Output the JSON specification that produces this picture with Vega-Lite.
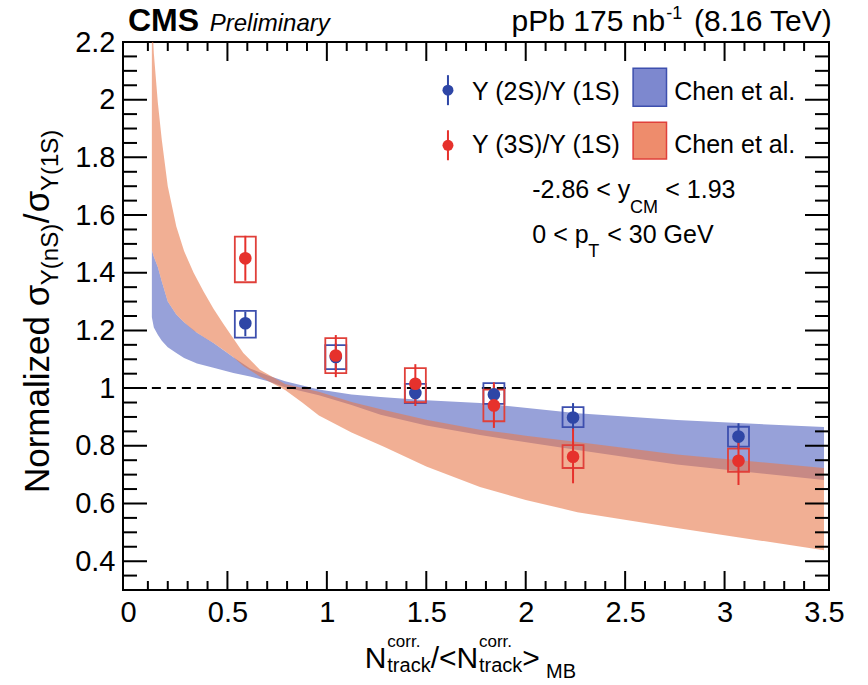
{
  "$schema": "https://vega.github.io/schema/vega-lite/v6.json",
  "width": 706,
  "height": 548,
  "autosize": {"type": "none"},
  "padding": {"left": 123, "top": 42, "right": 39, "bottom": 95},
  "background": "white",
  "config": {
    "view": {"stroke": "black", "strokeWidth": 2},
    "axis": {"labelFont": "Liberation Sans", "labelFontSize": 29, "labelColor": "black", "ticks": false, "domain": false, "grid": false, "labelPadding": 8, "labelFlush": false, "labelOverlap": false}
  },
  "datasets": {
    "blue": [
      {"x": 0.12, "lo": 1.246, "hi": 1.478}, {"x": 0.13, "lo": 1.21, "hi": 1.455}, {"x": 0.15, "lo": 1.185, "hi": 1.42},
      {"x": 0.17, "lo": 1.164, "hi": 1.37}, {"x": 0.2, "lo": 1.142, "hi": 1.3}, {"x": 0.243, "lo": 1.122, "hi": 1.255},
      {"x": 0.282, "lo": 1.104, "hi": 1.228}, {"x": 0.347, "lo": 1.085, "hi": 1.192}, {"x": 0.43, "lo": 1.071, "hi": 1.156},
      {"x": 0.53, "lo": 1.052, "hi": 1.107}, {"x": 0.614, "lo": 1.04, "hi": 1.068}, {"x": 0.7, "lo": 1.025, "hi": 1.045},
      {"x": 0.79, "lo": 1.003, "hi": 1.024}, {"x": 0.96, "lo": 0.975, "hi": 0.995}, {"x": 1.124, "lo": 0.941, "hi": 0.978},
      {"x": 1.27, "lo": 0.908, "hi": 0.969}, {"x": 1.5, "lo": 0.87, "hi": 0.958}, {"x": 1.77, "lo": 0.837, "hi": 0.948},
      {"x": 2.26, "lo": 0.785, "hi": 0.913}, {"x": 2.76, "lo": 0.735, "hi": 0.889}, {"x": 3.5, "lo": 0.681, "hi": 0.865}
    ],
    "orange": [
      {"x": 0.12, "lo": 1.478, "hi": 2.3}, {"x": 0.13, "lo": 1.455, "hi": 2.16}, {"x": 0.15, "lo": 1.42, "hi": 1.99},
      {"x": 0.17, "lo": 1.37, "hi": 1.86}, {"x": 0.2, "lo": 1.3, "hi": 1.7}, {"x": 0.243, "lo": 1.255, "hi": 1.56},
      {"x": 0.282, "lo": 1.228, "hi": 1.475}, {"x": 0.33, "lo": 1.2, "hi": 1.4}, {"x": 0.38, "lo": 1.177, "hi": 1.335},
      {"x": 0.43, "lo": 1.156, "hi": 1.275}, {"x": 0.48, "lo": 1.132, "hi": 1.222}, {"x": 0.53, "lo": 1.107, "hi": 1.172},
      {"x": 0.58, "lo": 1.077, "hi": 1.122}, {"x": 0.663, "lo": 1.04, "hi": 1.064}, {"x": 0.79, "lo": 0.993, "hi": 1.014},
      {"x": 0.876, "lo": 0.95, "hi": 1.0}, {"x": 0.96, "lo": 0.905, "hi": 0.987}, {"x": 1.124, "lo": 0.846, "hi": 0.952},
      {"x": 1.287, "lo": 0.797, "hi": 0.924}, {"x": 1.5, "lo": 0.728, "hi": 0.89}, {"x": 1.77, "lo": 0.657, "hi": 0.856},
      {"x": 2.0, "lo": 0.612, "hi": 0.835}, {"x": 2.26, "lo": 0.57, "hi": 0.813}, {"x": 2.76, "lo": 0.515, "hi": 0.77},
      {"x": 3.5, "lo": 0.438, "hi": 0.723}
    ],
    "ref": [{"x1": 0.12, "x2": 3.5, "y": 1}],
    "pts": [
      {"s": "2S", "x": 0.59, "y": 1.225, "slo": 1.18, "shi": 1.265, "ylo": 1.175, "yhi": 1.268},
      {"s": "2S", "x": 1.045, "y": 1.108, "slo": 1.06, "shi": 1.155, "ylo": 1.066, "yhi": 1.149},
      {"s": "2S", "x": 1.445, "y": 0.983, "slo": 0.945, "shi": 1.02, "ylo": 0.948, "yhi": 1.015},
      {"s": "2S", "x": 1.84, "y": 0.978, "slo": 0.945, "shi": 1.01, "ylo": 0.945, "yhi": 1.017},
      {"s": "2S", "x": 2.238, "y": 0.898, "slo": 0.85, "shi": 0.948, "ylo": 0.865, "yhi": 0.934},
      {"s": "2S", "x": 3.07, "y": 0.832, "slo": 0.79, "shi": 0.878, "ylo": 0.797, "yhi": 0.866},
      {"s": "3S", "x": 0.59, "y": 1.45, "slo": 1.372, "shi": 1.528, "ylo": 1.367, "yhi": 1.525},
      {"s": "3S", "x": 1.045, "y": 1.113, "slo": 1.038, "shi": 1.184, "ylo": 1.052, "yhi": 1.173},
      {"s": "3S", "x": 1.445, "y": 1.015, "slo": 0.938, "shi": 1.083, "ylo": 0.951, "yhi": 1.069},
      {"s": "3S", "x": 1.84, "y": 0.94, "slo": 0.862, "shi": 1.02, "ylo": 0.885, "yhi": 0.995},
      {"s": "3S", "x": 2.238, "y": 0.762, "slo": 0.67, "shi": 0.86, "ylo": 0.723, "yhi": 0.802},
      {"s": "3S", "x": 3.07, "y": 0.748, "slo": 0.664, "shi": 0.83, "ylo": 0.71, "yhi": 0.79}
    ],
    "legp": [
      {"s": "2S", "x": 1.609, "y": 2.033, "lo": 1.981, "hi": 2.085},
      {"s": "3S", "x": 1.609, "y": 1.842, "lo": 1.79, "hi": 1.894}
    ],
    "legb": [
      {"s": "2S", "x1": 2.54, "x2": 2.708, "y1": 1.977, "y2": 2.109},
      {"s": "3S", "x1": 2.54, "x2": 2.708, "y1": 1.794, "y2": 1.922}
    ],
    "txt": [
      {"g": "hdrB", "t": "CMS", "x": 0.0, "y": 2.238},
      {"g": "hdrI", "t": "Preliminary", "x": 0.411, "y": 2.238},
      {"g": "hdr", "t": "pPb 175 nb", "x": 1.929, "y": 2.238},
      {"g": "hdrS", "t": "-1", "x": 2.707, "y": 2.28},
      {"g": "hdr", "t": "(8.16 TeV)", "x": 2.846, "y": 2.238},
      {"g": "leg", "t": "Υ (2S)/Υ (1S)", "x": 1.73, "y": 1.999},
      {"g": "leg", "t": "Υ (3S)/Υ (1S)", "x": 1.73, "y": 1.815},
      {"g": "leg", "t": "Chen et al.", "x": 2.747, "y": 1.999},
      {"g": "leg", "t": "Chen et al.", "x": 2.747, "y": 1.815},
      {"g": "leg", "t": "-2.86 < y", "x": 2.033, "y": 1.659},
      {"g": "legS", "t": "CM", "x": 2.524, "y": 1.607},
      {"g": "leg", "t": "< 1.93", "x": 2.702, "y": 1.659},
      {"g": "leg", "t": "0 < p", "x": 2.033, "y": 1.503},
      {"g": "legS", "t": "T", "x": 2.315, "y": 1.454},
      {"g": "leg", "t": "< 30 GeV", "x": 2.41, "y": 1.503},
      {"g": "xt", "t": "N", "x": 1.19, "y": 0.0292},
      {"g": "xsup", "t": "corr.", "x": 1.304, "y": 0.102},
      {"g": "xsub", "t": "track", "x": 1.304, "y": 0.0154},
      {"g": "xt", "t": "/<N", "x": 1.522, "y": 0.0292},
      {"g": "xsup", "t": "corr.", "x": 1.765, "y": 0.102},
      {"g": "xsub", "t": "track", "x": 1.765, "y": 0.0154},
      {"g": "xt", "t": ">", "x": 1.983, "y": 0.0292},
      {"g": "xsub", "t": "MB", "x": 2.102, "y": -0.006},
      {"g": "yt", "t": "Normalized", "x": -0.397, "y": 0.636},
      {"g": "yt", "t": "σ", "x": -0.397, "y": 1.284},
      {"g": "ytS", "t": "Υ(nS)", "x": -0.352, "y": 1.357},
      {"g": "yt", "t": "/", "x": -0.397, "y": 1.572},
      {"g": "yt", "t": "σ", "x": -0.397, "y": 1.61},
      {"g": "ytS", "t": "Υ(1S)", "x": -0.352, "y": 1.683}
    ],
    "xtk": [
      {"v": 0.1, "m": 0}, {"v": 0.2, "m": 0}, {"v": 0.3, "m": 0}, {"v": 0.4, "m": 0}, {"v": 0.5, "m": 1},
      {"v": 0.6, "m": 0}, {"v": 0.7, "m": 0}, {"v": 0.8, "m": 0}, {"v": 0.9, "m": 0}, {"v": 1.0, "m": 1},
      {"v": 1.1, "m": 0}, {"v": 1.2, "m": 0}, {"v": 1.3, "m": 0}, {"v": 1.4, "m": 0}, {"v": 1.5, "m": 1},
      {"v": 1.6, "m": 0}, {"v": 1.7, "m": 0}, {"v": 1.8, "m": 0}, {"v": 1.9, "m": 0}, {"v": 2.0, "m": 1},
      {"v": 2.1, "m": 0}, {"v": 2.2, "m": 0}, {"v": 2.3, "m": 0}, {"v": 2.4, "m": 0}, {"v": 2.5, "m": 1},
      {"v": 2.6, "m": 0}, {"v": 2.7, "m": 0}, {"v": 2.8, "m": 0}, {"v": 2.9, "m": 0}, {"v": 3.0, "m": 1},
      {"v": 3.1, "m": 0}, {"v": 3.2, "m": 0}, {"v": 3.3, "m": 0}, {"v": 3.4, "m": 0}
    ],
    "ytk": [
      {"v": 0.35, "m": 0}, {"v": 0.4, "m": 1}, {"v": 0.45, "m": 0}, {"v": 0.5, "m": 0}, {"v": 0.55, "m": 0},
      {"v": 0.6, "m": 1}, {"v": 0.65, "m": 0}, {"v": 0.7, "m": 0}, {"v": 0.75, "m": 0}, {"v": 0.8, "m": 1},
      {"v": 0.85, "m": 0}, {"v": 0.9, "m": 0}, {"v": 0.95, "m": 0}, {"v": 1.0, "m": 1}, {"v": 1.05, "m": 0},
      {"v": 1.1, "m": 0}, {"v": 1.15, "m": 0}, {"v": 1.2, "m": 1}, {"v": 1.25, "m": 0}, {"v": 1.3, "m": 0},
      {"v": 1.35, "m": 0}, {"v": 1.4, "m": 1}, {"v": 1.45, "m": 0}, {"v": 1.5, "m": 0}, {"v": 1.55, "m": 0},
      {"v": 1.6, "m": 1}, {"v": 1.65, "m": 0}, {"v": 1.7, "m": 0}, {"v": 1.75, "m": 0}, {"v": 1.8, "m": 1},
      {"v": 1.85, "m": 0}, {"v": 1.9, "m": 0}, {"v": 1.95, "m": 0}, {"v": 2.0, "m": 1}, {"v": 2.05, "m": 0},
      {"v": 2.1, "m": 0}, {"v": 2.15, "m": 0}
    ]
  },
  "layer": [
    {
      "data": {"name": "blue"},
      "mark": {"type": "area", "color": "#97a1d9", "clip": true},
      "encoding": {
        "x": {"field": "x", "type": "quantitative", "title": null, "scale": {"domain": [0, 3.5], "nice": false, "zero": false},
              "axis": {"values": [0, 0.5, 1, 1.5, 2, 2.5, 3, 3.5], "format": "~g", "title": null}},
        "y": {"field": "lo", "type": "quantitative", "title": null, "scale": {"domain": [0.3, 2.2], "nice": false, "zero": false},
              "axis": {"values": [0.4, 0.6, 0.8, 1, 1.2, 1.4, 1.6, 1.8, 2, 2.2], "format": "~g", "title": null}},
        "y2": {"field": "hi"}
      }
    },
    {
      "data": {"name": "orange"},
      "mark": {"type": "area", "color": "#e87a4c", "opacity": 0.6, "clip": true},
      "encoding": {
        "x": {"field": "x", "type": "quantitative", "title": null},
        "y": {"field": "lo", "type": "quantitative", "title": null},
        "y2": {"field": "hi"}
      }
    },
    {
      "data": {"name": "ref"},
      "mark": {"type": "rule", "color": "black", "strokeWidth": 2, "strokeDash": [9, 6]},
      "encoding": {
        "x": {"field": "x1", "type": "quantitative", "title": null},
        "x2": {"field": "x2"},
        "y": {"field": "y", "type": "quantitative", "title": null}
      }
    },
    {
      "data": {"name": "pts"},
      "mark": {"type": "bar", "orient": "vertical", "width": 21, "fillOpacity": 0, "strokeWidth": 1.8},
      "encoding": {
        "x": {"field": "x", "type": "quantitative", "title": null},
        "y": {"field": "ylo", "type": "quantitative", "title": null},
        "y2": {"field": "yhi"},
        "stroke": {"field": "s", "type": "nominal", "scale": {"domain": ["2S", "3S"], "range": ["#3d4fae", "#e0403a"]}, "legend": null}
      }
    },
    {
      "data": {"name": "pts"},
      "mark": {"type": "rule", "strokeWidth": 2},
      "encoding": {
        "x": {"field": "x", "type": "quantitative", "title": null},
        "y": {"field": "slo", "type": "quantitative", "title": null},
        "y2": {"field": "shi"},
        "color": {"field": "s", "type": "nominal", "scale": {"domain": ["2S", "3S"], "range": ["#2e46a6", "#e6312c"]}, "legend": null}
      }
    },
    {
      "data": {"name": "pts"},
      "mark": {"type": "circle", "size": 160, "opacity": 1},
      "encoding": {
        "x": {"field": "x", "type": "quantitative", "title": null},
        "y": {"field": "y", "type": "quantitative", "title": null},
        "color": {"field": "s", "type": "nominal", "legend": null}
      }
    },
    {
      "data": {"name": "legb"},
      "mark": {"type": "rect", "strokeWidth": 1.5},
      "encoding": {
        "x": {"field": "x1", "type": "quantitative", "title": null},
        "x2": {"field": "x2"},
        "y": {"field": "y1", "type": "quantitative", "title": null},
        "y2": {"field": "y2"},
        "fill": {"field": "s", "type": "nominal", "scale": {"domain": ["2S", "3S"], "range": ["#7d88cf", "#ee8c6c"]}, "legend": null},
        "stroke": {"field": "s", "type": "nominal", "legend": null}
      }
    },
    {
      "data": {"name": "legp"},
      "mark": {"type": "rule", "strokeWidth": 2},
      "encoding": {
        "x": {"field": "x", "type": "quantitative", "title": null},
        "y": {"field": "lo", "type": "quantitative", "title": null},
        "y2": {"field": "hi"},
        "color": {"field": "s", "type": "nominal", "legend": null}
      }
    },
    {
      "data": {"name": "legp"},
      "mark": {"type": "circle", "size": 120, "opacity": 1},
      "encoding": {
        "x": {"field": "x", "type": "quantitative", "title": null},
        "y": {"field": "y", "type": "quantitative", "title": null},
        "color": {"field": "s", "type": "nominal", "legend": null}
      }
    },
    {
      "data": {"name": "xtk"},
      "mark": {"type": "tick", "orient": "vertical", "thickness": 2, "color": "black", "opacity": 1, "clip": true},
      "encoding": {
        "x": {"field": "v", "type": "quantitative", "title": null},
        "y": {"datum": 0.3, "type": "quantitative", "title": null},
        "size": {"field": "m", "type": "quantitative", "scale": {"domain": [0, 1], "range": [18, 38], "zero": false}, "legend": null}
      }
    },
    {
      "data": {"name": "xtk"},
      "mark": {"type": "tick", "orient": "vertical", "thickness": 2, "color": "black", "opacity": 1, "clip": true},
      "encoding": {
        "x": {"field": "v", "type": "quantitative", "title": null},
        "y": {"datum": 2.2, "type": "quantitative", "title": null},
        "size": {"field": "m", "type": "quantitative", "legend": null}
      }
    },
    {
      "data": {"name": "ytk"},
      "mark": {"type": "tick", "orient": "horizontal", "thickness": 2, "color": "black", "opacity": 1, "clip": true},
      "encoding": {
        "y": {"field": "v", "type": "quantitative", "title": null},
        "x": {"datum": 0, "type": "quantitative", "title": null},
        "size": {"field": "m", "type": "quantitative", "legend": null}
      }
    },
    {
      "data": {"name": "ytk"},
      "mark": {"type": "tick", "orient": "horizontal", "thickness": 2, "color": "black", "opacity": 1, "clip": true},
      "encoding": {
        "y": {"field": "v", "type": "quantitative", "title": null},
        "x": {"datum": 3.5, "type": "quantitative", "title": null},
        "size": {"field": "m", "type": "quantitative", "legend": null}
      }
    },
    {
      "data": {"name": "txt"},
      "transform": [{"filter": "datum.g == 'hdrB'"}],
      "mark": {"type": "text", "align": "left", "baseline": "alphabetic", "font": "Liberation Sans", "fontSize": 32, "fontWeight": "bold", "color": "black"},
      "encoding": {"x": {"field": "x", "type": "quantitative", "title": null}, "y": {"field": "y", "type": "quantitative", "title": null}, "text": {"field": "t"}}
    },
    {
      "data": {"name": "txt"},
      "transform": [{"filter": "datum.g == 'hdrI'"}],
      "mark": {"type": "text", "align": "left", "baseline": "alphabetic", "font": "Liberation Sans", "fontSize": 24, "fontStyle": "italic", "color": "black"},
      "encoding": {"x": {"field": "x", "type": "quantitative", "title": null}, "y": {"field": "y", "type": "quantitative", "title": null}, "text": {"field": "t"}}
    },
    {
      "data": {"name": "txt"},
      "transform": [{"filter": "datum.g == 'hdr'"}],
      "mark": {"type": "text", "align": "left", "baseline": "alphabetic", "font": "Liberation Sans", "fontSize": 30, "color": "black"},
      "encoding": {"x": {"field": "x", "type": "quantitative", "title": null}, "y": {"field": "y", "type": "quantitative", "title": null}, "text": {"field": "t"}}
    },
    {
      "data": {"name": "txt"},
      "transform": [{"filter": "datum.g == 'hdrS'"}],
      "mark": {"type": "text", "align": "left", "baseline": "alphabetic", "font": "Liberation Sans", "fontSize": 18, "color": "black"},
      "encoding": {"x": {"field": "x", "type": "quantitative", "title": null}, "y": {"field": "y", "type": "quantitative", "title": null}, "text": {"field": "t"}}
    },
    {
      "data": {"name": "txt"},
      "transform": [{"filter": "datum.g == 'leg'"}],
      "mark": {"type": "text", "align": "left", "baseline": "alphabetic", "font": "Liberation Sans", "fontSize": 25, "color": "black"},
      "encoding": {"x": {"field": "x", "type": "quantitative", "title": null}, "y": {"field": "y", "type": "quantitative", "title": null}, "text": {"field": "t"}}
    },
    {
      "data": {"name": "txt"},
      "transform": [{"filter": "datum.g == 'legS'"}],
      "mark": {"type": "text", "align": "left", "baseline": "alphabetic", "font": "Liberation Sans", "fontSize": 18, "color": "black"},
      "encoding": {"x": {"field": "x", "type": "quantitative", "title": null}, "y": {"field": "y", "type": "quantitative", "title": null}, "text": {"field": "t"}}
    },
    {
      "data": {"name": "txt"},
      "transform": [{"filter": "datum.g == 'xt'"}],
      "mark": {"type": "text", "align": "left", "baseline": "alphabetic", "font": "Liberation Sans", "fontSize": 30, "color": "black"},
      "encoding": {"x": {"field": "x", "type": "quantitative", "title": null}, "y": {"field": "y", "type": "quantitative", "title": null}, "text": {"field": "t"}}
    },
    {
      "data": {"name": "txt"},
      "transform": [{"filter": "datum.g == 'xsup'"}],
      "mark": {"type": "text", "align": "left", "baseline": "alphabetic", "font": "Liberation Sans", "fontSize": 17, "color": "black"},
      "encoding": {"x": {"field": "x", "type": "quantitative", "title": null}, "y": {"field": "y", "type": "quantitative", "title": null}, "text": {"field": "t"}}
    },
    {
      "data": {"name": "txt"},
      "transform": [{"filter": "datum.g == 'xsub'"}],
      "mark": {"type": "text", "align": "left", "baseline": "alphabetic", "font": "Liberation Sans", "fontSize": 20, "color": "black"},
      "encoding": {"x": {"field": "x", "type": "quantitative", "title": null}, "y": {"field": "y", "type": "quantitative", "title": null}, "text": {"field": "t"}}
    },
    {
      "data": {"name": "txt"},
      "transform": [{"filter": "datum.g == 'yt'"}],
      "mark": {"type": "text", "align": "left", "baseline": "alphabetic", "angle": 270, "font": "Liberation Sans", "fontSize": 35, "color": "black"},
      "encoding": {"x": {"field": "x", "type": "quantitative", "title": null}, "y": {"field": "y", "type": "quantitative", "title": null}, "text": {"field": "t"}}
    },
    {
      "data": {"name": "txt"},
      "transform": [{"filter": "datum.g == 'ytS'"}],
      "mark": {"type": "text", "align": "left", "baseline": "alphabetic", "angle": 270, "font": "Liberation Sans", "fontSize": 24, "color": "black"},
      "encoding": {"x": {"field": "x", "type": "quantitative", "title": null}, "y": {"field": "y", "type": "quantitative", "title": null}, "text": {"field": "t"}}
    }
  ]
}
